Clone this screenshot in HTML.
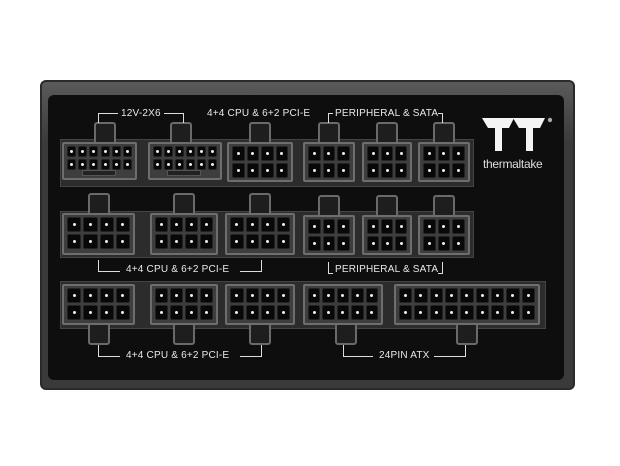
<!DOCTYPE html>
<html><head><meta charset="utf-8"><style>
body{margin:0;width:620px;height:466px;background:#fff;position:relative;overflow:hidden;font-family:"Liberation Sans",sans-serif}
div{position:absolute;box-sizing:border-box}
.case{left:40px;top:80px;width:535px;height:310px;background:linear-gradient(#5a5a5a,#3a3a3a 20%,#3a3a3a);border-radius:6px;border:2px solid #2a2a2a}
.panel{left:48px;top:95px;width:516px;height:285px;background:#0e0e0e;border-radius:6px}
.band{background:#2c2c2c;border:1px solid #444}
.conn{background:#3e3e3e;border:2px solid #6e6e6e;border-radius:2px}
.pin{background:#080808;border:1px solid #222;border-radius:2px}
.pin:after{content:"";position:absolute;left:50%;top:50%;width:3px;height:3px;margin:-1.5px;background:#eee;border-radius:50%}
.tab{background:#1e1e1e;border:2px solid #6a6a6a;border-radius:3px}
.lbl{color:#e8e8e8;font-size:10px;white-space:nowrap;letter-spacing:.2px}
.br{border:1.5px solid #ddd}
</style></head><body>
<div class="case"></div>
<div class="panel"></div>
<div class="band" style="left:60px;top:139px;width:414px;height:48px"></div>
<div class="band" style="left:60px;top:211px;width:414px;height:47px"></div>
<div class="band" style="left:60px;top:281px;width:486px;height:48px"></div>
<div id="c"></div>
<div class="br" style="left:98px;top:113px;width:20px;height:10px;border-right:none;border-bottom:none"></div>
<div class="lbl" style="left:121px;top:108px">12V-2X6</div>
<div class="br" style="left:164px;top:113px;width:20px;height:10px;border-left:none;border-bottom:none"></div>
<div class="lbl" style="left:207px;top:108px">4+4 CPU &amp; 6+2 PCI-E</div>
<div class="br" style="left:328px;top:113px;width:5px;height:10px;border-right:none;border-bottom:none"></div>
<div class="lbl" style="left:335px;top:108px">PERIPHERAL &amp; SATA</div>
<div class="br" style="left:438px;top:113px;width:5px;height:10px;border-left:none;border-bottom:none"></div>

<div class="br" style="left:98px;top:260px;width:22px;height:12px;border-right:none;border-top:none"></div>
<div class="lbl" style="left:126px;top:264px">4+4 CPU &amp; 6+2 PCI-E</div>
<div class="br" style="left:240px;top:260px;width:22px;height:12px;border-left:none;border-top:none"></div>
<div class="br" style="left:328px;top:262px;width:5px;height:12px;border-right:none;border-top:none"></div>
<div class="lbl" style="left:335px;top:264px">PERIPHERAL &amp; SATA</div>
<div class="br" style="left:438px;top:262px;width:5px;height:12px;border-left:none;border-top:none"></div>

<div class="br" style="left:98px;top:345px;width:22px;height:12px;border-right:none;border-top:none"></div>
<div class="lbl" style="left:126px;top:350px">4+4 CPU &amp; 6+2 PCI-E</div>
<div class="br" style="left:240px;top:345px;width:22px;height:12px;border-left:none;border-top:none"></div>
<div class="br" style="left:343px;top:345px;width:30px;height:12px;border-right:none;border-top:none"></div>
<div class="lbl" style="left:379px;top:350px">24PIN ATX</div>
<div class="br" style="left:434px;top:345px;width:32px;height:12px;border-left:none;border-top:none"></div>

<svg style="position:absolute;left:481px;top:117px" width="72" height="36" viewBox="0 0 72 36">
<path d="M1 1H33L28 11H21V34H14V11H7Z" fill="#f4f4f4"/>
<path d="M32 1H64L59 11H52V34H45V11H38Z" fill="#f4f4f4"/>
<circle cx="69" cy="3" r="2.2" fill="#aaa"/>
</svg>
<div class="lbl" style="left:483px;top:157px;font-size:12px;color:#ddd;letter-spacing:-.3px">thermaltake</div>

<script>
var c=document.getElementById('c'),h='';
function conn(x,y,w,hh,cols,rows,tab,tx,ph){
 var tw=22;tx=tx==null?x+w/2-tw/2:tx;ph=ph||15;
 if(tab=='t')h+='<div class="tab" style="left:'+tx+'px;top:'+(y-20)+'px;width:'+tw+'px;height:24px"></div>';
 if(tab=='b')h+='<div class="tab" style="left:'+tx+'px;top:'+(y+hh-4)+'px;width:'+tw+'px;height:24px"></div>';
 h+='<div class="conn" style="left:'+x+'px;top:'+y+'px;width:'+w+'px;height:'+hh+'px"></div>';
 var pw=(w-8)/cols;
 for(var r=0;r<rows;r++)for(var k=0;k<cols;k++)
  h+='<div class="pin" style="left:'+(x+4+k*pw+1)+'px;top:'+(y+4+r*(ph+2))+'px;width:'+(pw-2)+'px;height:'+ph+'px"></div>';
}
conn(62,142,75,38,6,2,'t',94,11);conn(148,142,74,38,6,2,'t',170,11);
h+='<div style="left:82px;top:170px;width:34px;height:6px;background:#222;border:1px solid #555"></div>';
h+='<div style="left:167px;top:170px;width:34px;height:6px;background:#222;border:1px solid #555"></div>';
conn(227,142,66,40,4,2,'t');
conn(303,142,52,40,3,2,'t');conn(362,142,50,40,3,2,'t');conn(418,142,52,40,3,2,'t');
conn(62,213,73,42,4,2,'t');conn(150,213,68,42,4,2,'t');conn(225,213,70,42,4,2,'t');
conn(303,215,52,40,3,2,'t');conn(362,215,50,40,3,2,'t');conn(418,215,52,40,3,2,'t');
conn(62,284,73,41,4,2,'b');conn(150,284,68,41,4,2,'b');conn(225,284,70,41,4,2,'b');
conn(303,284,80,41,5,2,'b',335);conn(394,284,146,41,9,2,'b',456);
c.innerHTML=h;
</script>
</body></html>
